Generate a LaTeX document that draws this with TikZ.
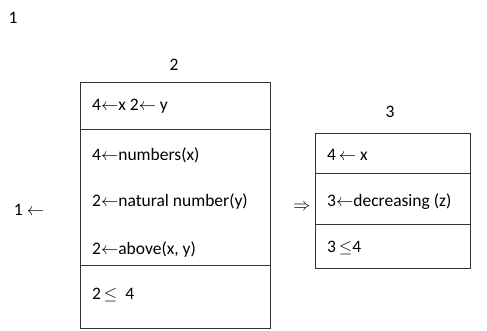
\documentclass[tikz,border=0pt]{standalone}
\usepackage{fontspec}
\setmainfont{Carlito}
\usetikzlibrary{positioning}

\tikzset{
    cell/.style={draw=black!80, line width=0.8pt, minimum width=#1,
        inner sep=0pt, outer sep=0pt, anchor=north west},
    txt/.style={anchor=west, inner sep=0pt, font=\fontsize{17.5}{20}\selectfont},
    lbl/.style={inner sep=0pt, font=\fontsize{17.5}{20}\selectfont}
}

\begin{document}
\begin{tikzpicture}[x=1pt,y=-1pt]
    \useasboundingbox (0,0) rectangle (487,330);

    % numbers above the boxes
    \node[lbl] (n1) at (13,18)  {1};
    \node[lbl] (n2) at (174,65) {2};
    \node[lbl] (n3) at (390,112) {3};

    % left box
    \node[cell=190pt, minimum height=47pt] (top2) at (80,82) {};
    \node[cell=190pt, minimum height=136pt, below=0pt of top2] (mid2) {};
    \node[cell=190pt, minimum height=63pt, below=0pt of mid2] (bot2) {};

    \node[txt] (xy2)    at (92,106) {4$\leftarrow$x 2$\leftarrow$ y};
    \node[txt] (num2)   at (92,155) {4$\leftarrow$numbers(x)};
    \node[txt] (nat2)   at (92,202) {2$\leftarrow$natural number(y)};
    \node[txt] (abv2)   at (92,250) {2$\leftarrow$above(x, y)};
    \node[txt] (leq2)   at (92,295) {2$\,\leq$\ \ 4};

    % right box
    \node[cell=155pt, minimum height=40pt] (top3) at (315,133) {};
    \node[cell=155pt, minimum height=51pt, below=0pt of top3] (mid3) {};
    \node[cell=155pt, minimum height=44pt, below=0pt of mid3] (bot3) {};

    \node[txt] (x3)   at (327,155) {4$\,\leftarrow$ x};
    \node[txt] (dec3) at (327,202) {3$\leftarrow$decreasing (z)};
    \node[txt] (leq3) at (327,248) {3$\,\leq$4};

    % side marks
    \node[lbl] (arr1) at (29,210) {1 $\leftarrow$};
    \node[lbl] (imp)  at (302,207) {$\Rightarrow$};
\end{tikzpicture}
\end{document}
